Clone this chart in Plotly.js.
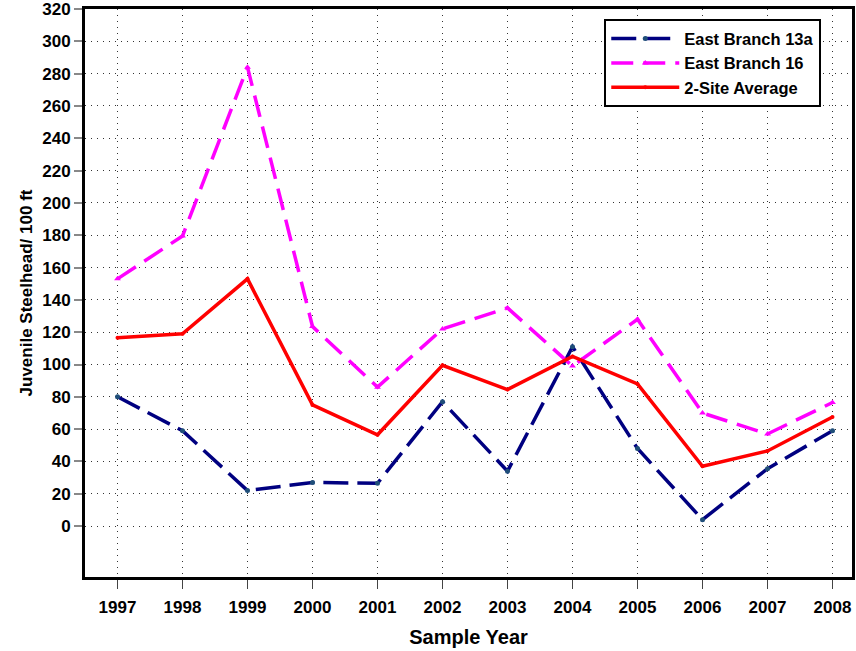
<!DOCTYPE html>
<html><head><meta charset="utf-8">
<script src="https://cdn.plot.ly/plotly-3.0.1.min.js"></script>
<style>html,body{margin:0;padding:0;background:#fff}</style>
</head><body>
<div id="chart" style="width:856px;height:651px"></div>
<script>
const years = [1997,1998,1999,2000,2001,2002,2003,2004,2005,2006,2007,2008];
const eastBranch13a = [80,59,22,27,26.5,77,34,111,48,4,35.5,59];
const eastBranch16 = [153,179.5,284,123.5,86,122,135,99,128,70,57,76.5];
const siteAverage = [116.5,119,153,75,56.5,99.5,84.5,105,88,37,46.5,67.5];
const yTicks = [0,20,40,60,80,100,120,140,160,180,200,220,240,260,280,300,320];

const F = "Arial, 'Liberation Sans', sans-serif";
const traces = [
  {x: years, y: eastBranch13a, name: 'East Branch 13a', mode: 'lines+markers',
   line: {color: '#000080', width: 3.5, dash: '25px,9px'},
   marker: {symbol: 'circle', size: 5, color: '#1f4e79'}},
  {x: years, y: eastBranch16, name: 'East Branch 16', mode: 'lines+markers',
   line: {color: '#ff00ff', width: 3.5, dash: '22px,10px'},
   marker: {symbol: 'triangle-up', size: 6, color: '#ff00ff'}},
  {x: years, y: siteAverage, name: '2-Site Average', mode: 'lines+markers',
   line: {color: '#ff0000', width: 3.5},
   marker: {symbol: 'circle', size: 4, color: '#ff0000'}}
];
const layout = {
  width: 856, height: 651,
  margin: {l: 85, r: 4, t: 9, b: 74},
  paper_bgcolor: '#fff', plot_bgcolor: '#fff',
  font: {family: F, color: '#000', size: 17},
  showlegend: true,
  legend: {x: 0.677, y: 0.982, xanchor: 'left', yanchor: 'top',
    bgcolor: '#fff', bordercolor: '#000', borderwidth: 2,
    itemwidth: 68,
    font: {family: F, size: 16.5, weight: 'bold'}, tracegroupgap: 0},
  xaxis: {
    range: [1996.5, 2008.3], tickvals: years, ticktext: years.map(String),
    tickfont: {family: F, size: 17, weight: 'bold'},
    ticks: 'outside', ticklen: 9, tickcolor: '#444', tickwidth: 1.5,
    ticklabelstandoff: 4,
    showline: true, linecolor: '#000', linewidth: 3, mirror: true,
    showgrid: true, gridcolor: '#333', griddash: '1px,5px', gridwidth: 1,
    zeroline: false,
    title: {text: 'Sample Year', font: {family: F, size: 20, weight: 'bold'}, standoff: 14}
  },
  yaxis: {
    range: [-31.5, 320], tickvals: yTicks,
    tickfont: {family: F, size: 17, weight: 'bold'},
    ticklabeloverflow: 'allow',
    ticks: 'outside', ticklen: 8, tickcolor: '#888', tickwidth: 2,
    showline: true, linecolor: '#000', linewidth: 3, mirror: true,
    showgrid: true, gridcolor: '#333', griddash: '1px,5px', gridwidth: 1,
    zeroline: false,
    title: {text: 'Juvenile Steelhead/ 100 ft', font: {family: F, size: 17, weight: 'bold'}, standoff: 6}
  }
};
Plotly.newPlot('chart', traces, layout, {displayModeBar: false, staticPlot: true});
</script>
</body></html>
